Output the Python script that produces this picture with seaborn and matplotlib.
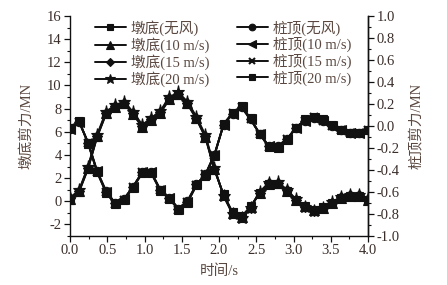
import matplotlib
matplotlib.use("Agg")
import matplotlib.pyplot as plt
import seaborn as sns
from matplotlib.ticker import MultipleLocator

sns.set_style("ticks")
plt.rcParams['font.family'] = ['Liberation Serif', 'Noto Sans CJK SC']
plt.rcParams['axes.unicode_minus'] = False

# time grid (s)
t = [0.0, 0.121, 0.242, 0.364, 0.485, 0.606, 0.727, 0.848, 0.970, 1.091,
     1.212, 1.333, 1.455, 1.576, 1.697, 1.818, 1.939, 2.061, 2.182, 2.303,
     2.424, 2.545, 2.667, 2.788, 2.909, 3.030, 3.152, 3.273, 3.394, 3.515,
     3.636, 3.758, 3.879, 4.0]

# 墩底剪力 (MN, left axis)
pier_0 = [0.15, 0.8, 2.8, 5.55, 7.55, 8.1, 8.4, 7.5, 6.4, 7.0, 7.6, 8.8, 9.2, 8.4, 7.1, 5.5, 2.7,
          0.6, -0.95, -1.3, -0.45, 0.75, 1.45, 1.5, 0.87, 0.15, -0.43, -0.72, -0.52, -0.15, 0.29,
          0.43, 0.43, 0.15]
pier_10 = [0.2, 0.85, 2.85, 5.6, 7.6, 8.15, 8.45, 7.55, 6.45, 7.05, 7.65, 8.85, 9.25, 8.45, 7.15,
           5.55, 2.75, 0.55, -1.0, -1.35, -0.5, 0.75, 1.5, 1.55, 0.9, 0.15, -0.45, -0.75, -0.55,
           -0.15, 0.3, 0.45, 0.45, 0.15]
pier_15 = [0.25, 0.9, 2.9, 5.65, 7.65, 8.2, 8.5, 7.6, 6.5, 7.1, 7.7, 8.9, 9.3, 8.5, 7.2, 5.6, 2.8,
           0.5, -1.05, -1.4, -0.55, 0.75, 1.55, 1.6, 0.95, 0.15, -0.5, -0.8, -0.6, -0.15, 0.35,
           0.5, 0.5, 0.2]
pier_20 = [0.3, 0.95, 3.0, 5.75, 7.75, 8.3, 8.6, 7.7, 6.6, 7.2, 7.8, 9.0, 9.4, 8.6, 7.3, 5.7, 2.9,
           0.45, -1.1, -1.45, -0.6, 0.8, 1.6, 1.7, 1.0, 0.2, -0.5, -0.8, -0.6, -0.1, 0.4, 0.55,
           0.55, 0.25]

# 桩顶剪力 (MN, right axis)
pile_0 = [-0.03, 0.04, -0.15, -0.41, -0.59, -0.70, -0.66, -0.55, -0.42, -0.42, -0.58, -0.65,
          -0.75, -0.68, -0.53, -0.44, -0.26, 0.01, 0.11, 0.17, 0.06, -0.07, -0.18, -0.18, -0.12,
          -0.02, 0.05, 0.07, 0.05, 0.00, -0.04, -0.06, -0.06, -0.04]
pile_10 = [-0.03, 0.04, -0.15, -0.41, -0.60, -0.70, -0.66, -0.55, -0.42, -0.42, -0.58, -0.65,
           -0.75, -0.69, -0.53, -0.44, -0.26, 0.01, 0.11, 0.17, 0.06, -0.07, -0.18, -0.19, -0.12,
           -0.02, 0.05, 0.07, 0.05, 0.00, -0.04, -0.06, -0.06, -0.04]
pile_15 = [-0.02, 0.04, -0.15, -0.42, -0.60, -0.71, -0.67, -0.55, -0.42, -0.43, -0.58, -0.66,
           -0.76, -0.69, -0.54, -0.44, -0.26, 0.01, 0.12, 0.17, 0.06, -0.07, -0.19, -0.19, -0.12,
           -0.02, 0.05, 0.08, 0.05, 0.00, -0.04, -0.06, -0.06, -0.04]
pile_20 = [-0.02, 0.05, -0.16, -0.42, -0.61, -0.71, -0.67, -0.56, -0.43, -0.43, -0.59, -0.66,
           -0.76, -0.70, -0.54, -0.45, -0.27, 0.02, 0.12, 0.18, 0.07, -0.07, -0.19, -0.20, -0.13,
           -0.02, 0.06, 0.08, 0.06, 0.01, -0.04, -0.06, -0.06, -0.04]

pier_labels = ['墩底(无风)', '墩底(10 m/s)', '墩底(15 m/s)', '墩底(20 m/s)']
pile_labels = ['桩顶(无风)', '桩顶(10 m/s)', '桩顶(15 m/s)', '桩顶(20 m/s)']

pier_series = [pier_0, pier_10, pier_15, pier_20]
pile_series = [pile_0, pile_10, pile_15, pile_20]
pier_markers = ['s', '^', 'D', '*']
pier_msize = [6, 7, 5.5, 9.5]
pile_markers = ['o', '<', 'x', 's']
pile_msize = [6, 7, 6, 6]

txt = '#3a2e2a'
lab = '#5a4840'

fig = plt.figure(figsize=(4.47, 2.85), dpi=100)
ax = fig.add_axes([70/447, 1-236/285, (368-70)/447, (236-16)/285])
ax2 = ax.twinx()

handles = []
for ys, m, ms, lb in zip(pier_series, pier_markers, pier_msize, pier_labels):
    sns.lineplot(x=t, y=ys, ax=ax, color='#111111', marker=m, markersize=ms, linewidth=1.4,
                 markeredgecolor='#111111', markeredgewidth=0.8, legend=False)
    handles.append(ax.lines[-1])
for ys, m, ms, lb in zip(pile_series, pile_markers, pile_msize, pile_labels):
    sns.lineplot(x=t, y=ys, ax=ax2, color='#111111', marker=m, markersize=ms, linewidth=1.4,
                 markeredgecolor='#111111', markeredgewidth=0.8 if m != 'x' else 1.5, legend=False)
    handles.append(ax2.lines[-1])

ax.set_xlim(0, 4.0)
ax.set_ylim(-3, 16)
ax2.set_ylim(-1.0, 1.0)
ax.xaxis.set_major_locator(MultipleLocator(0.5))
ax.xaxis.set_minor_locator(MultipleLocator(0.25))
ax.yaxis.set_major_locator(MultipleLocator(2))
ax.yaxis.set_minor_locator(MultipleLocator(1))
ax2.yaxis.set_major_locator(MultipleLocator(0.2))
ax2.yaxis.set_minor_locator(MultipleLocator(0.1))
ax.set_xticks(ax.get_xticks())
ax.set_xticklabels([f'{v:.1f}' for v in ax.get_xticks()])
ax2.set_yticks(ax2.get_yticks())
ax2.set_yticklabels([f'{v:.1f}'.replace('-0.0', '0.0') for v in ax2.get_yticks()])
ax2.set_ylim(-1.0, 1.0)
ax.set_xlim(0, 4.0)

for a in (ax, ax2):
    a.spines['top'].set_visible(False)
    for s in ('left', 'right', 'bottom'):
        a.spines[s].set_color('#111111')
        a.spines[s].set_linewidth(1.0)
    a.tick_params(which='major', direction='out', length=4, width=0.9, colors='#111111',
                  labelsize=10.5, labelcolor=txt, pad=2)
    a.tick_params(which='minor', direction='out', length=2.5, width=0.8, colors='#111111')
ax2.spines['left'].set_visible(False)
ax2.spines['bottom'].set_visible(False)

ax.set_xlabel('时间/s', fontsize=10.5, color=lab, labelpad=5)
ax.set_ylabel('墩底剪力/MN', fontsize=10.5, color=lab, labelpad=10)
ax2.set_ylabel('桩顶剪力/MN', fontsize=10.5, color=lab, labelpad=7)

leg = ax2.legend(handles=handles, labels=pier_labels + pile_labels, ncol=2,
                 loc='upper left', bbox_to_anchor=(95/447, 1-20/285),
                 bbox_transform=fig.transFigure, frameon=False, fontsize=10.5,
                 handlelength=2.1, handletextpad=0.35, columnspacing=1.9,
                 labelspacing=0.1, borderpad=0, borderaxespad=0, markerscale=0.8)
for tx in leg.get_texts():
    tx.set_color(lab)

fig.savefig('out.png', dpi=100)
